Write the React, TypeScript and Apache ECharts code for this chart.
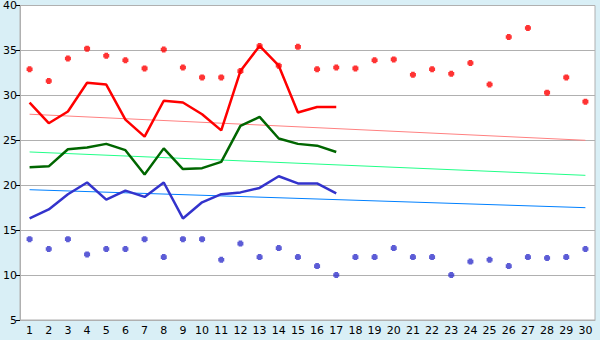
import React, { useEffect, useRef } from "react";
import * as echarts from "echarts";

const categories = ["1","2","3","4","5","6","7","8","9","10","11","12","13","14","15","16","17","18","19","20","21","22","23","24","25","26","27","28","29","30"];

const maxScatter = [32.9,31.6,34.1,35.2,34.4,33.9,33.0,35.1,33.1,32.0,32.0,32.7,35.5,33.3,35.4,32.9,33.1,33.0,33.9,34.0,32.3,32.9,32.4,33.6,31.2,36.5,37.5,30.3,32.0,29.3];
const minScatter = [14.0,12.9,14.0,12.3,12.9,12.9,14.0,12.0,14.0,14.0,11.7,13.5,12.0,13.0,12.0,11.0,10.0,12.0,12.0,13.0,12.0,12.0,10.0,11.5,11.7,11.0,12.0,11.9,12.0,12.9];

const redLine = [29.2,26.9,28.2,31.4,31.2,27.3,25.4,29.4,29.2,27.9,26.1,32.7,35.5,33.3,28.1,28.7,28.7];
const greenLine = [22.0,22.1,24.0,24.2,24.6,23.9,21.2,24.1,21.8,21.9,22.6,26.6,27.6,25.2,24.6,24.4,23.7];
const blueLine = [16.3,17.3,19.0,20.3,18.4,19.4,18.7,20.3,16.3,18.1,19.0,19.2,19.7,21.0,20.2,20.2,19.1];

// trend lines: [start value at day 1, end value at day 30]
const redTrend = [27.9, 25.0];
const greenTrend = [23.7, 21.1];
const blueTrend = [19.5, 17.5];

const yTicks = { min: 5, max: 40, interval: 5 };

const marker = "path://M1,0H4V1H5V4H4V5H1V4H0V1H1Z";

function trendData(t: number[]) {
  return [[0, t[0]], [categories.length - 1, t[1]]];
}

export default function App() {
  const ref = useRef<HTMLDivElement>(null);
  useEffect(() => {
    document.body.style.margin = "0";
    if (!ref.current) return;
    const chart = echarts.init(ref.current, undefined, { renderer: "svg" });
    const font = "DejaVu Sans";
    chart.setOption({
      animation: false,
      backgroundColor: "#d9eff6",
      grid: {
        left: 20, right: 5, top: 5, bottom: 20,
        show: true, backgroundColor: "#ffffff", borderColor: "#b0b0b0", borderWidth: 1,
      },
      xAxis: {
        type: "category",
        data: categories,
        boundaryGap: true,
        axisLine: { lineStyle: { color: "#b0b0b0", width: 1 } },
        axisTick: { alignWithLabel: true, length: 5, lineStyle: { color: "#000000" } },
        axisLabel: { color: "#000", fontFamily: font, fontSize: 11, margin: 5, interval: 0 },
        splitLine: { show: false },
      },
      yAxis: {
        type: "value",
        min: yTicks.min, max: yTicks.max, interval: yTicks.interval,
        axisLine: { show: true, lineStyle: { color: "#b0b0b0", width: 1 } },
        axisTick: { show: true, length: 4, lineStyle: { color: "#000000" } },
        axisLabel: { color: "#000", fontFamily: font, fontSize: 11, margin: 3 },
        splitLine: { show: true, lineStyle: { color: "#b0b0b0", width: 1 } },
      },
      series: [
        { type: "line", data: trendData(redTrend), symbol: "none", lineStyle: { color: "#ff8080", width: 1 }, z: 2 },
        { type: "line", data: trendData(greenTrend), symbol: "none", lineStyle: { color: "#22ff88", width: 1 }, z: 2 },
        { type: "line", data: trendData(blueTrend), symbol: "none", lineStyle: { color: "#0080ff", width: 1 }, z: 2 },
        { type: "line", data: redLine, symbol: "none", lineStyle: { color: "#ff0000", width: 2.5 }, z: 3 },
        { type: "line", data: greenLine, symbol: "none", lineStyle: { color: "#006600", width: 2.5 }, z: 3 },
        { type: "line", data: blueLine, symbol: "none", lineStyle: { color: "#3333cc", width: 2.5 }, z: 3 },
        { type: "scatter", data: maxScatter, symbol: marker, symbolSize: 6, itemStyle: { color: "#ff0000" }, z: 4 },
        { type: "scatter", data: minScatter, symbol: marker, symbolSize: 6, itemStyle: { color: "#3333cc" }, z: 4 },
      ],
    });
    return () => chart.dispose();
  }, []);
  return <div ref={ref} style={{ width: 600, height: 340 }} />;
}
